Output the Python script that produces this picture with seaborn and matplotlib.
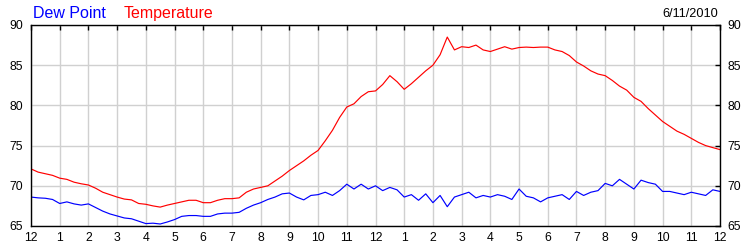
import numpy as np
import pandas as pd
import matplotlib
matplotlib.use("Agg")
import matplotlib.pyplot as plt
import seaborn as sns

# time of day in hours (15-minute readings)
hours = np.arange(0, 24.001, 0.25)

temperature = [
    72.1, 71.7, 71.5, 71.3, 70.95, 70.8, 70.45, 70.25,
    70.1, 69.7, 69.2, 68.9, 68.6, 68.35, 68.25, 67.8,
    67.7, 67.5, 67.35, 67.6, 67.8, 68.0, 68.2, 68.2,
    67.9, 67.9, 68.2, 68.4, 68.4, 68.5, 69.2, 69.6,
    69.8, 70.0, 70.6, 71.2, 71.9, 72.5, 73.1, 73.8,
    74.4, 75.6, 76.9, 78.5, 79.8, 80.2, 81.1, 81.7,
    81.8, 82.6, 83.7, 82.95, 82.0, 82.7, 83.5, 84.3,
    85.0, 86.3, 88.5, 86.9, 87.3, 87.2, 87.5, 86.9,
    86.7, 87.0, 87.3, 87.0, 87.2, 87.25, 87.2, 87.25,
    87.25, 86.9, 86.7, 86.2, 85.4, 84.9, 84.3, 83.9,
    83.7, 83.1, 82.4, 81.9, 81.0, 80.5, 79.6, 78.8,
    78.0, 77.4, 76.8, 76.4, 75.9, 75.4, 75.0, 74.75,
    74.5,
]

dew_point = [
    68.6, 68.5, 68.45, 68.3, 67.8, 68.0, 67.75, 67.6,
    67.75, 67.3, 66.85, 66.5, 66.25, 66.0, 65.9, 65.6,
    65.3, 65.35, 65.25, 65.5, 65.8, 66.2, 66.3, 66.3,
    66.2, 66.2, 66.5, 66.6, 66.6, 66.7, 67.2, 67.6,
    67.9, 68.3, 68.6, 69.0, 69.1, 68.6, 68.25, 68.8,
    68.9, 69.2, 68.8, 69.4, 70.2, 69.6, 70.2, 69.6,
    70.0, 69.4, 69.8, 69.5, 68.6, 68.9, 68.2, 69.0,
    67.9, 68.8, 67.4, 68.6, 68.9, 69.2, 68.5, 68.8,
    68.6, 68.9, 68.7, 68.3, 69.6, 68.7, 68.5, 68.0,
    68.5, 68.7, 68.9, 68.3, 69.3, 68.8, 69.2, 69.4,
    70.3, 70.0, 70.8, 70.2, 69.6, 70.7, 70.4, 70.2,
    69.3, 69.3, 69.1, 68.9, 69.2, 69.0, 68.8, 69.5,
    69.3,
]

hour_ticks = list(range(0, 25))
hour_labels = ["12", "1", "2", "3", "4", "5", "6", "7", "8", "9", "10", "11",
               "12", "1", "2", "3", "4", "5", "6", "7", "8", "9", "10", "11", "12"]
y_ticks = [65, 70, 75, 80, 85, 90]
series_names = ["Dew Point", "Temperature"]
series_colors = ["#0000ff", "#ff0000"]
date_label = "6/11/2010"

sns.set_style("white")
plt.rcParams["font.family"] = ["Liberation Sans", "DejaVu Sans"]

df = pd.DataFrame({"hour": hours, "Temperature": temperature, "Dew Point": dew_point})

fig = plt.figure(figsize=(7.5, 2.5), dpi=100)
ax = fig.add_axes([31 / 750, 1 - 226 / 250, (720 - 31) / 750, (226 - 25) / 250])

for name, col in zip(series_names, series_colors):
    sns.lineplot(data=df, x="hour", y=name, color=col, linewidth=0.85, ax=ax)

ax.set_xlim(0, 24)
ax.set_ylim(65, 90)
ax.set_xticks(hour_ticks)
ax.set_xticklabels(hour_labels)
ax.set_yticks(y_ticks)
ax.set_xlabel("")
ax.set_ylabel("")
ax.grid(True, color="#d0d0d0", linewidth=1.0)
ax.set_axisbelow(True)
for s in ax.spines.values():
    s.set_color("black")
    s.set_linewidth(1.0)
ax.tick_params(axis="both", direction="in", length=3.5, width=1.0, color="black",
               labelcolor="black", labelsize=8.8, top=True, right=True,
               labelright=True, pad=5.5)
ax.tick_params(axis="x", pad=4)

fig.text(33 / 750, 1 - 18 / 250, series_names[0], color=series_colors[0],
         fontsize=11.5, ha="left", va="baseline")
fig.text(124 / 750, 1 - 18 / 250, series_names[1], color=series_colors[1],
         fontsize=11.5, ha="left", va="baseline")
fig.text(718 / 750, 1 - 17 / 250, date_label, color="black",
         fontsize=9.2, ha="right", va="baseline")

fig.savefig("out.png", dpi=100)
